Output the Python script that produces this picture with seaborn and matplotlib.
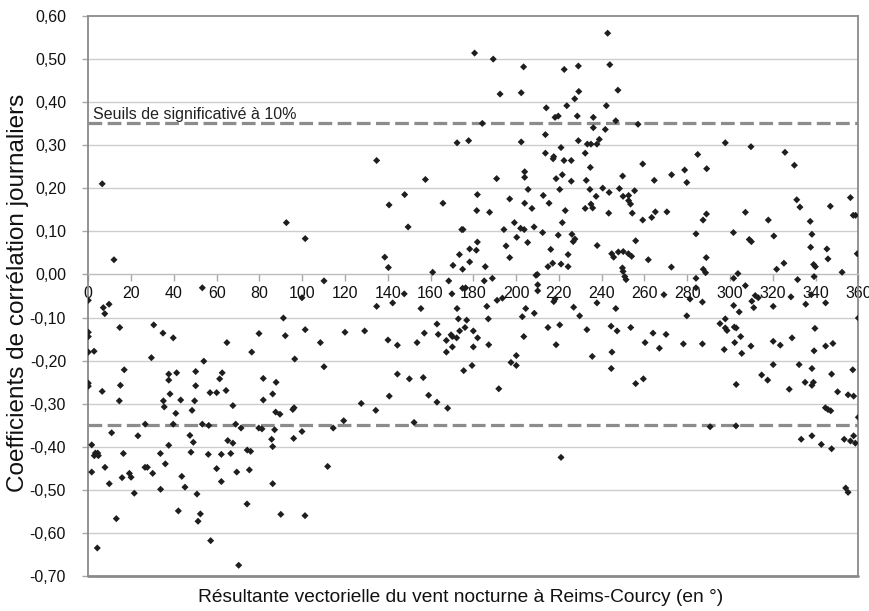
import numpy as np
import pandas as pd
import seaborn as sns
import matplotlib.pyplot as plt
from matplotlib.ticker import FuncFormatter

# Daily correlation coefficients vs. nightly wind direction (degrees)
direction = [
    6.5,
    180.6, 134.8, 172.4, 177.8, 157.6, 147.9, 140.6, 165.8, 181.9, 181.6,
    189.3, 203.5, 242.8, 243.8, 222.5, 229.1, 192.5, 202.4, 247.6, 229.3,
    227.4, 214.1, 223.7, 242.2, 218.2, 219.7, 228.6, 236.1, 246.6, 184.2,
    257.0, 236.1, 241.7, 213.7, 202.4, 229.1, 238.9, 233.3, 235.0, 237.8,
    221.0, 213.7, 217.6, 217.3, 232.3, 222.4, 225.8, 259.2, 234.7, 204.0,
    204.0, 221.6, 190.9, 218.7, 225.8, 232.8, 249.8, 264.6, 272.7, 205.6,
    220.4, 234.5, 240.5, 243.5, 248.3, 255.4, 197.0, 212.7, 237.4, 250.0,
    252.6, 204.0, 215.4, 235.0, 252.6, 253.5,
    207.4, 232.3, 235.8, 254.3, 187.6, 223.0, 243.3, 265.1, 270.5, 259.2,
    263.4, 199.2, 221.6, 194.3, 202.1, 203.8, 208.4, 212.4, 219.7, 226.1,
    227.5, 226.7, 200.3, 205.4, 181.9, 181.4, 195.3, 216.2, 237.9, 255.9,
    197.0, 224.3, 244.7, 245.6, 247.8, 250.1, 252.5, 254.0, 261.8, 272.6,
    185.6, 214.9, 217.1, 221.0, 224.3, 249.7, 250.0, 250.8, 251.4, 209.3,
    209.9, 210.1, 210.1, 188.9, 185.1, 218.2, 217.6, 191.1, 193.6, 186.3,
    204.5, 226.9, 237.8, 246.6, 269.1, 208.5, 202.9, 229.7, 187.0, 214.9,
    220.4, 233.1, 244.4, 247.2, 253.6, 264.0, 270.1, 182.0, 203.6, 260.3,
    267.0, 187.2, 218.7, 244.8, 200.1, 235.6, 197.6, 200.1, 244.5, 255.9,
    259.5, 191.9, 221.0,
    278.8, 279.8, 284.9, 289.1, 297.8, 309.8, 325.7, 330.1, 331.2, 356.3,
    332.7, 346.9, 307.2, 317.9, 337.5, 357.6, 358.7, 289.0, 287.4, 284.1,
    301.6, 320.5, 338.3, 309.0, 310.0, 337.7, 345.3, 345.8, 359.5, 288.9,
    287.5, 288.6, 325.2, 321.8, 339.1, 339.9, 352.4, 303.7, 301.7, 284.1,
    339.3, 331.6, 307.2, 284.1, 281.3, 287.1, 311.8, 313.2, 310.2, 328.5,
    338.0, 301.7, 311.1, 320.2, 335.4, 344.7, 304.3, 279.8, 360.0, 297.8,
    295.3, 297.8, 298.6, 302.0, 302.9, 339.7, 305.0, 329.0, 278.2, 287.1,
    302.2, 309.8, 320.2, 323.5, 344.7, 348.1, 297.3, 305.5, 339.3, 320.2,
    332.3, 338.3, 347.5, 357.4, 314.8, 317.6, 335.1, 339.0, 338.3, 302.9,
    327.7,
    350.3, 355.2, 357.8, 344.6, 345.8, 347.1, 360.0, 290.7, 302.8, 333.3,
    338.3, 342.7, 347.5, 353.4, 356.3, 357.8, 358.6, 354.1, 355.2,
    12.0, 53.3, 0.0, 7.0, 7.7, 9.7, 0.0, 0.0, 0.0, 2.7,
    14.7, 30.6, 34.9, 39.7, 64.8, 79.8, 76.4, 29.5, 54.0, 16.8,
    37.6, 37.6, 41.3, 50.2, 62.6, 61.4, 81.8, 87.8, 0.0, 0.0,
    15.0, 50.2,
    6.5, 14.5, 35.1, 35.5, 38.2, 43.2, 40.9, 39.7, 26.6, 49.7,
    48.5, 56.9, 60.0, 64.4, 67.6, 81.8, 86.2, 87.6, 89.6, 53.3,
    56.3, 68.9, 71.4, 79.7, 81.2, 87.1, 10.9, 23.2, 47.5, 49.1,
    65.2, 67.6, 85.7, 86.2, 1.6, 37.6, 3.3, 4.4, 2.8, 4.7,
    16.4, 33.7, 48.0, 56.1, 62.2, 66.6, 74.3, 75.9, 1.6, 7.8,
    26.5, 27.6, 36.0, 15.8, 19.2, 20.0, 30.1, 43.7, 60.0, 69.4,
    75.3, 9.8, 21.5, 33.8, 45.2, 62.2, 86.2, 50.8, 74.2, 13.1,
    42.1, 52.4, 51.3, 90.0, 57.2, 4.2, 70.3,
    95.6, 96.2, 96.0, 99.9, 111.9, 114.5, 119.4, 127.6, 134.4, 140.7,
    152.3, 159.1, 163.0, 168.0, 101.3,
    92.6, 149.5, 101.4, 174.6, 175.2, 178.3, 173.5, 138.6, 140.3, 161.0,
    170.5, 175.0, 178.3, 110.2, 168.5, 175.0, 176.4, 170.0, 147.7, 99.9,
    142.3, 134.8, 155.5, 172.4, 91.2, 173.0, 176.9, 163.0, 92.1, 101.4,
    120.0, 129.2, 157.1, 163.6, 173.6, 176.1, 180.0, 169.6, 170.2, 172.2,
    167.4, 108.5, 140.1, 144.5, 153.7, 170.2, 180.0, 167.4, 96.5, 110.2,
    179.4, 175.5, 144.5, 150.1, 156.6,
]

correlation = [
    0.210,
    0.513, 0.264, 0.305, 0.310, 0.220, 0.185, 0.161, 0.165, 0.185, 0.148,
    0.499, 0.481, 0.559, 0.486, 0.475, 0.483, 0.418, 0.421, 0.427, 0.424,
    0.407, 0.386, 0.391, 0.391, 0.364, 0.367, 0.367, 0.364, 0.356, 0.350,
    0.348, 0.340, 0.336, 0.324, 0.307, 0.310, 0.313, 0.302, 0.302, 0.302,
    0.294, 0.281, 0.273, 0.268, 0.281, 0.264, 0.264, 0.256, 0.248, 0.238,
    0.225, 0.231, 0.222, 0.222, 0.216, 0.218, 0.228, 0.218, 0.231, 0.197,
    0.197, 0.197, 0.200, 0.190, 0.199, 0.194, 0.175, 0.183, 0.181, 0.181,
    0.183, 0.165, 0.165, 0.163, 0.171, 0.163,
    0.153, 0.153, 0.154, 0.142, 0.144, 0.148, 0.142, 0.145, 0.145, 0.126,
    0.132, 0.120, 0.120, 0.104, 0.107, 0.104, 0.110, 0.097, 0.091, 0.093,
    0.082, 0.076, 0.086, 0.074, 0.075, 0.056, 0.066, 0.058, 0.067, 0.078,
    0.039, 0.046, 0.048, 0.040, 0.052, 0.053, 0.048, 0.042, 0.034, 0.017,
    0.018, 0.018, 0.026, 0.024, 0.018, 0.015, 0.007, -0.005, -0.012, -0.002,
    0.000, -0.024, -0.038, -0.009, -0.015, -0.057, -0.063, -0.060, -0.055, -0.074,
    -0.079, -0.076, -0.066, -0.079, -0.047, -0.090, -0.098, -0.096, -0.103, -0.123,
    -0.117, -0.128, -0.120, -0.131, -0.123, -0.136, -0.139, -0.147, -0.144, -0.158,
    -0.171, -0.163, -0.163, -0.180, -0.188, -0.190, -0.204, -0.211, -0.218, -0.253,
    -0.242, -0.265, -0.424,
    0.242, 0.213, 0.278, 0.245, 0.305, 0.296, 0.283, 0.253, 0.173, 0.178,
    0.156, 0.158, 0.144, 0.126, 0.123, 0.137, 0.137, 0.140, 0.126, 0.094,
    0.097, 0.089, 0.093, 0.081, 0.076, 0.063, 0.059, 0.036, 0.048, 0.039,
    0.012, 0.004, 0.026, 0.012, 0.023, 0.018, 0.005, 0.002, -0.009, -0.009,
    -0.005, -0.012, -0.026, -0.031, -0.057, -0.064, -0.049, -0.054, -0.062, -0.052,
    -0.047, -0.072, -0.077, -0.074, -0.069, -0.066, -0.087, -0.096, -0.101, -0.103,
    -0.114, -0.124, -0.130, -0.122, -0.124, -0.125, -0.144, -0.147, -0.161, -0.161,
    -0.158, -0.166, -0.155, -0.164, -0.166, -0.160, -0.174, -0.183, -0.177, -0.209,
    -0.209, -0.218, -0.231, -0.221, -0.233, -0.245, -0.250, -0.250, -0.257, -0.255,
    -0.266,
    -0.272, -0.279, -0.282, -0.309, -0.313, -0.316, -0.331, -0.353, -0.351, -0.382,
    -0.374, -0.394, -0.404, -0.382, -0.386, -0.374, -0.391, -0.495, -0.505,
    0.034, -0.031, -0.060, -0.077, -0.091, -0.069, -0.134, -0.144, -0.180, -0.178,
    -0.123, -0.117, -0.136, -0.147, -0.158, -0.137, -0.180, -0.193, -0.201, -0.221,
    -0.231, -0.245, -0.228, -0.225, -0.228, -0.242, -0.241, -0.250, -0.252, -0.259,
    -0.257, -0.258,
    -0.271, -0.293, -0.293, -0.307, -0.277, -0.291, -0.322, -0.347, -0.347, -0.293,
    -0.315, -0.274, -0.274, -0.269, -0.304, -0.291, -0.277, -0.319, -0.324, -0.347,
    -0.350, -0.347, -0.356, -0.356, -0.358, -0.360, -0.367, -0.374, -0.373, -0.389,
    -0.385, -0.391, -0.382, -0.399, -0.395, -0.396, -0.414, -0.414, -0.420, -0.420,
    -0.415, -0.415, -0.412, -0.417, -0.417, -0.415, -0.407, -0.410, -0.458, -0.447,
    -0.447, -0.447, -0.439, -0.471, -0.461, -0.470, -0.461, -0.468, -0.450, -0.458,
    -0.453, -0.485, -0.507, -0.498, -0.493, -0.480, -0.485, -0.509, -0.532, -0.566,
    -0.548, -0.555, -0.572, -0.556, -0.617, -0.634, -0.674,
    -0.313, -0.309, -0.380, -0.364, -0.445, -0.356, -0.339, -0.299, -0.315, -0.282,
    -0.343, -0.280, -0.296, -0.310, -0.559,
    0.120, 0.110, 0.083, 0.104, 0.104, 0.059, 0.046, 0.040, 0.016, 0.005,
    0.021, 0.012, 0.029, -0.015, -0.015, -0.032, -0.031, -0.045, -0.045, -0.054,
    -0.066, -0.074, -0.079, -0.079, -0.101, -0.103, -0.106, -0.115, -0.142, -0.128,
    -0.134, -0.131, -0.136, -0.139, -0.131, -0.123, -0.131, -0.140, -0.144, -0.147,
    -0.153, -0.158, -0.152, -0.164, -0.158, -0.168, -0.168, -0.180, -0.196, -0.214,
    -0.211, -0.223, -0.231, -0.242, -0.239,
]

x_ticks = list(range(0, 361, 20))
y_ticks = [-0.70, -0.60, -0.50, -0.40, -0.30, -0.20, -0.10, 0.00,
           0.10, 0.20, 0.30, 0.40, 0.50, 0.60]
threshold = 0.35
threshold_label = "Seuils de significativé à 10%"
x_label = "Résultante vectorielle du vent nocturne à Reims-Courcy (en °)"
y_label = "Coefficients de corrélation journaliers"

df = pd.DataFrame({"direction": direction, "correlation": correlation})

sns.set_theme(style="white")
plt.rcParams["font.family"] = ["Liberation Sans", "DejaVu Sans"]

fig = plt.figure(figsize=(8.7, 6.11), dpi=100)
ax = fig.add_axes([0.1015, 0.0565, 0.8851, 0.9181])

frame = "#8a8a8a"
grid = "#cdcdcd"

# horizontal grid
for yv in y_ticks[1:-1]:
    if abs(yv) > 1e-9:
        ax.axhline(yv, color=grid, lw=1.0, zorder=0)

# significance thresholds
for t in (threshold, -threshold):
    ax.axhline(t, color="#8c8c8c", lw=2.3, dashes=(4.3, 1.7), zorder=1)

sns.scatterplot(data=df, x="direction", y="correlation", marker="D", s=13,
                color="#1e1e1e", edgecolor="none", linewidth=0, ax=ax, zorder=3)

ax.set_xlim(0, 360)
ax.set_ylim(-0.70, 0.60)
ax.set_xticks(x_ticks)
ax.set_xticklabels([str(v) for v in x_ticks])
ax.set_yticks(y_ticks)


def comma_fmt(v, pos):
    if abs(v) < 1e-9:
        v = 0.0
    return f"{v:.2f}".replace(".", ",")


ax.yaxis.set_major_formatter(FuncFormatter(comma_fmt))

# x axis runs through zero
ax.spines["bottom"].set_position(("data", 0))
ax.spines["bottom"].set_color("#bdbdbd")
ax.spines["bottom"].set_linewidth(1.0)
for side in ("left", "top", "right"):
    ax.spines[side].set_color(frame)
    ax.spines[side].set_linewidth(1.3)
ax.plot([0, 360], [-0.70, -0.70], color=frame, lw=2.0, clip_on=False, zorder=4)

ax.tick_params(axis="x", direction="out", length=5, width=1, color="#a8a8a8",
               pad=3, labelsize=11.5, labelcolor="#111111", bottom=True)
ax.tick_params(axis="y", direction="out", length=4, width=1, color="#a8a8a8",
               pad=12, labelsize=11.5, labelcolor="#111111", left=True)
ax.set_xlabel("")
ax.set_ylabel("")

ax.text(2.2, threshold + 0.004, threshold_label, fontsize=11.5,
        color="#222222", va="bottom", ha="left", zorder=5)

fig.text(461 / 870, 1 - 598 / 611, x_label, fontsize=13.8, color="#111111",
         ha="center", va="center")
fig.text(18 / 870, 1 - 293 / 611, y_label, fontsize=17.5, color="#111111",
         ha="center", va="center", rotation=90)

fig.savefig("out.png", dpi=100)
